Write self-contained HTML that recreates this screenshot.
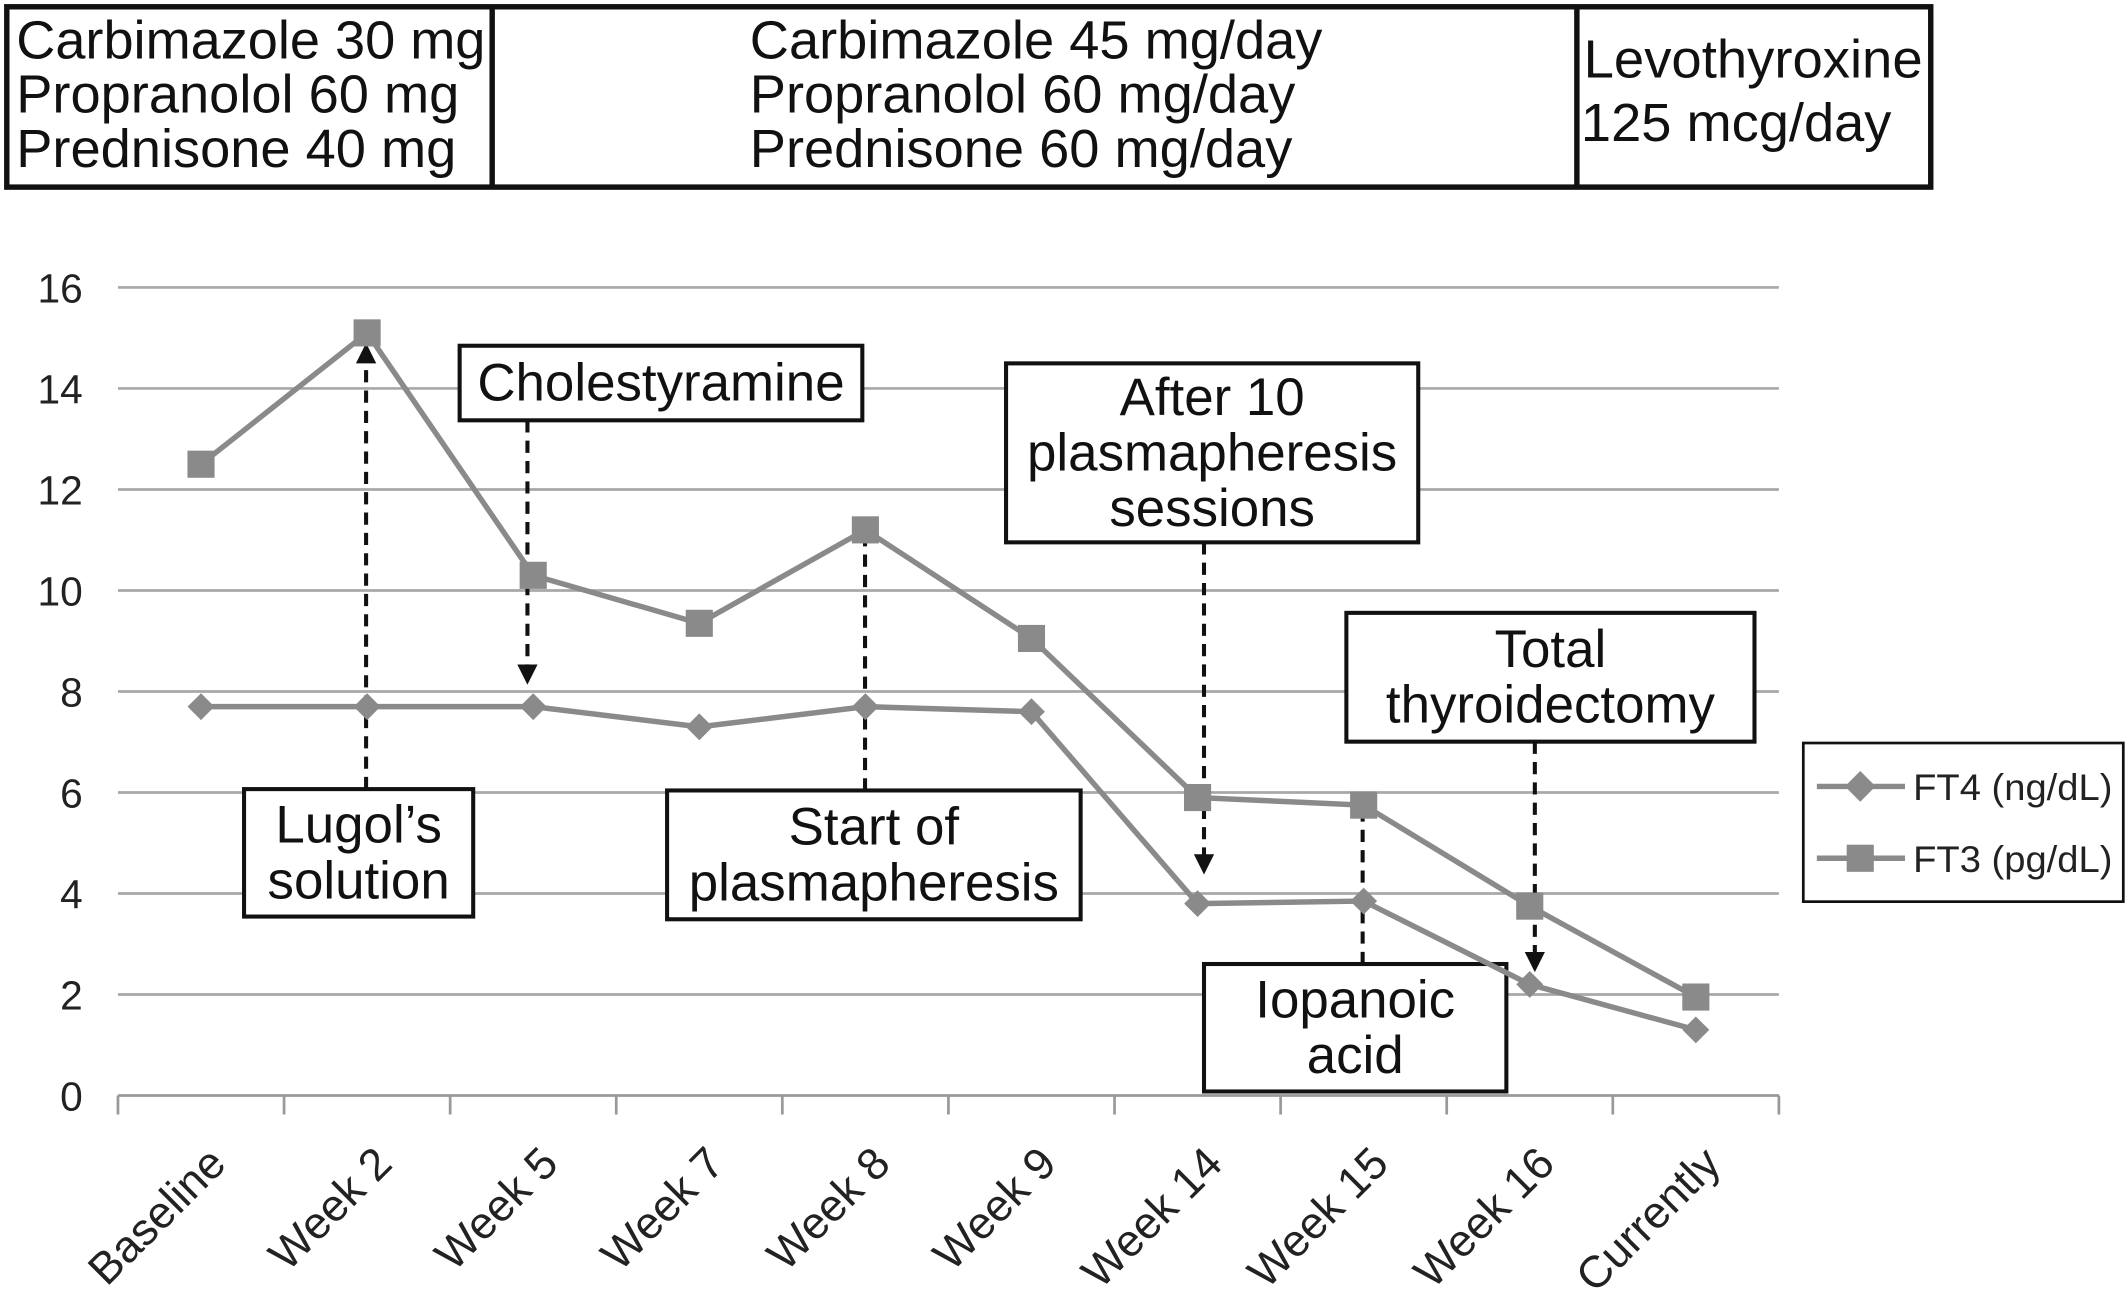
<!DOCTYPE html>
<html><head><meta charset="utf-8"><style>
html,body{margin:0;padding:0;background:#fff;}
svg{display:block;font-family:"Liberation Sans",sans-serif;}
</style></head><body>
<svg id="chart" width="2126" height="1316" viewBox="0 0 1568 970.6" xmlns="http://www.w3.org/2000/svg">
<defs>
<marker id="ah" viewBox="0 0 10 10" refX="8" refY="5" markerWidth="5" markerHeight="5" orient="auto-start-reverse"><path d="M0,0 L10,5 L0,10 z" fill="#111"/></marker>
</defs>
<g font-size="40" fill="#111">
<rect x="5" y="5" width="1419" height="133" fill="none" stroke="#111" stroke-width="4"/>
<line x1="363" y1="5" x2="363" y2="138" stroke="#111" stroke-width="4"/>
<line x1="1163" y1="5" x2="1163" y2="138" stroke="#111" stroke-width="4"/>
<text x="12" y="43" textLength="346" lengthAdjust="spacingAndGlyphs">Carbimazole 30 mg</text>
<text x="12" y="83">Propranolol 60 mg</text>
<text x="12" y="123">Prednisone 40 mg</text>
<text x="553" y="43">Carbimazole 45 mg/day</text>
<text x="553" y="83">Propranolol 60 mg/day</text>
<text x="553" y="123">Prednisone 60 mg/day</text>
<text x="1168" y="57" textLength="250" lengthAdjust="spacingAndGlyphs">Levothyroxine</text>
<text x="1166" y="104">125 mcg/day</text>
</g>
<g id="grid"></g><g id="axes"></g><g id="annots"></g><g id="series"></g>
<g>
<rect x="1330" y="548" width="236" height="117" fill="#fff" stroke="#111" stroke-width="2"/>
<line x1="1340" y1="580" x2="1405" y2="580" stroke="#8a8a8a" stroke-width="4"/>
<rect x="1364" y="572" width="16" height="16" fill="#8a8a8a" transform="rotate(45 1372 580)"/>
<text x="1411" y="590" font-size="27" fill="#222" textLength="147" lengthAdjust="spacingAndGlyphs">FT4 (ng/dL)</text>
<line x1="1340" y1="633" x2="1405" y2="633" stroke="#8a8a8a" stroke-width="4"/>
<rect x="1362" y="623" width="20" height="20" fill="#8a8a8a"/>
<text x="1411" y="643" font-size="27" fill="#222" textLength="147" lengthAdjust="spacingAndGlyphs">FT3 (pg/dL)</text>
</g>
</svg>
<script>
const categories=["Baseline","Week 2","Week 5","Week 7","Week 8","Week 9","Week 14","Week 15","Week 16","Currently"];
const ft4=[7.7,7.7,7.7,7.3,7.7,7.6,3.8,3.85,2.2,1.3];
const ft3=[12.5,15.1,10.3,9.35,11.2,9.05,5.9,5.75,3.75,1.95];
const yTicks=[0,2,4,6,8,10,12,14,16];
const NS="http://www.w3.org/2000/svg";
const X0=87,X1=1312,Y0=808,Y16=212;
const bw=(X1-X0)/categories.length;
const xs=i=>X0+bw*(i+0.5);
const ys=v=>Y0-(v/16)*(Y0-Y16);
function mk(t,a,p){const e=document.createElementNS(NS,t);for(const k in a)e.setAttribute(k,a[k]);p.appendChild(e);return e;}
const grid=document.getElementById('grid'),axes=document.getElementById('axes'),ser=document.getElementById('series'),an=document.getElementById('annots');
yTicks.forEach(v=>{
 const l=mk('line',{x1:X0,x2:X1,y1:ys(v),y2:ys(v),stroke:v===0?'#999':'#a8a8a8','stroke-width':2},grid);
 
 
 const t=mk('text',{x:61,y:ys(v)+11,'font-size':30,'text-anchor':'end',fill:'#222'},axes);t.textContent=v;
 
 
});
for(let i=0;i<=categories.length;i++){mk('line',{x1:X0+bw*i,x2:X0+bw*i,y1:Y0,y2:Y0+14,stroke:'#999','stroke-width':2},axes);}
categories.forEach((c,i)=>{
 const x=xs(i)+20,y=Y0+52;
 const t=mk('text',{x:x,y:y,'font-size':33,'text-anchor':'end',fill:'#222',transform:`rotate(-45 ${x} ${y})`},axes);t.textContent=c;
 
 
});
function annot(lines,bx,by,bwid,bh,ax,ay1,ay2){
 const g=mk('g',{},an);
 
 
 mk('line',{x1:ax,y1:ay1,x2:ax,y2:ay2,stroke:'#111','stroke-width':3,'stroke-dasharray':'9,6','marker-end':'url(#ah)'},g);
 mk('rect',{x:bx,y:by,width:bwid,height:bh,fill:'#fff',stroke:'#111','stroke-width':3},g);
 const lh=41,start=by+bh/2-(lines.length-1)*lh/2+13;
 lines.forEach((s,k)=>{const t=mk('text',{x:bx+bwid/2,y:start+k*lh,'font-size':39,'text-anchor':'middle',fill:'#111'},g);t.textContent=s;});
}
annot(["Lugol’s","solution"],180,582,169,94,270,582,256);
annot(["Cholestyramine"],339,255,297,55,389,310,502);
annot(["Start of","plasmapheresis"],492,583,305,95,638,583,386);
annot(["After 10","plasmapheresis","sessions"],742,268,304,132,888,400,642);
annot(["Total","thyroidectomy"],993,452,301,95,1132,547,714);
annot(["Iopanoic","acid"],888,711,223,94,1005,711,588);
function line(vals,name){
 const p=mk('polyline',{points:vals.map((v,i)=>xs(i)+','+ys(v)).join(' '),fill:'none',stroke:'#8a8a8a','stroke-width':4},ser);
 
 
}
line(ft4,'ft4');line(ft3,'ft3');
ft4.forEach((v,i)=>{const r=mk('rect',{x:xs(i)-7,y:ys(v)-7,width:14,height:14,fill:'#8a8a8a',transform:`rotate(45 ${xs(i)} ${ys(v)})`},ser);
 
 });
ft3.forEach((v,i)=>{const r=mk('rect',{x:xs(i)-10,y:ys(v)-10,width:20,height:20,fill:'#8a8a8a'},ser);
 
 });
</script>
</body></html>
